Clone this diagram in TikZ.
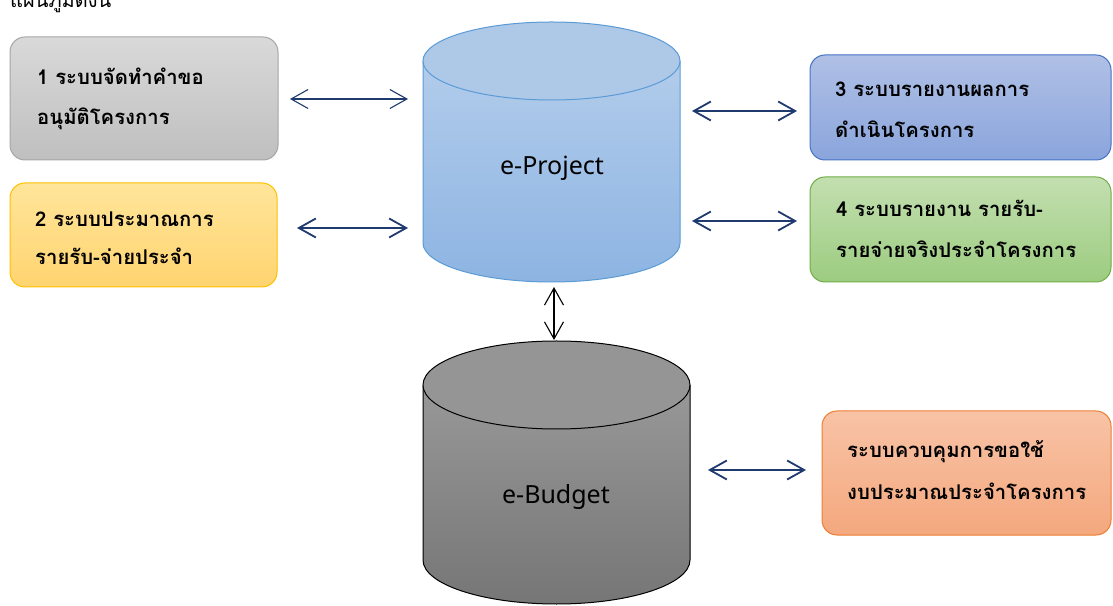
\documentclass[tikz,border=0pt]{standalone}
\usepackage{fontspec}
\setmainfont{Noto Sans}
\newfontfamily\thaifont[Script=Thai]{Loma}
\usetikzlibrary{arrows.meta}
\definecolor{navy}{HTML}{1F3A6E}
\definecolor{b1d}{HTML}{A6A6A6}\definecolor{b1t}{HTML}{D9D9D9}\definecolor{b1b}{HTML}{BFBFBF}
\definecolor{b2d}{HTML}{FFC000}\definecolor{b2t}{HTML}{FFE59A}\definecolor{b2b}{HTML}{FFD470}
\definecolor{b3d}{HTML}{4472C4}\definecolor{b3t}{HTML}{B0C0E6}\definecolor{b3b}{HTML}{8AA5DC}
\definecolor{b4d}{HTML}{70AD47}\definecolor{b4t}{HTML}{C3DFB0}\definecolor{b4b}{HTML}{9CCC80}
\definecolor{b5d}{HTML}{ED7D31}\definecolor{b5t}{HTML}{F8C3A6}\definecolor{b5b}{HTML}{F4A87E}
\definecolor{epd}{HTML}{5B9BD5}\definecolor{ept}{HTML}{B2CCEB}\definecolor{epb}{HTML}{8DB4E2}\definecolor{epc}{HTML}{AEC8E8}
\definecolor{ebt}{HTML}{989898}\definecolor{ebb}{HTML}{767676}\definecolor{ebc}{HTML}{959595}
\begin{document}
\begin{tikzpicture}[x=1pt,y=1pt,
  sbox/.style={draw, rounded corners=15pt, line width=1pt, inner sep=0pt},
  tlabel/.style={anchor=base west, inner sep=0pt, font=\thaifont\bfseries\fontsize{20.3}{24}\selectfont},
  tips/.style={{Straight Barb[length=17pt,width=19pt]}-{Straight Barb[length=17pt,width=19pt]}},
  dbl/.style={navy, line width=1.8pt, tips},
  dblthin/.style={navy, line width=1.1pt, tips},
  cyltext/.style={font=\fontsize{25}{30}\selectfont, inner sep=0pt}
]
\useasboundingbox (0,0) rectangle (1113,605);
\fill[white] (0,0) rectangle (1113,605);
% header
\node[anchor=base west, inner sep=0pt, font=\thaifont\fontsize{20}{24}\selectfont] (hdr) at (10,597) {แผนภูมิดังนี้};

% boxes
\node[sbox, draw=b1d, top color=b1t, bottom color=b1b, minimum width=268pt, minimum height=123pt] (b1) at (144,506.5) {};
\node[sbox, draw=b2d, top color=b2t, bottom color=b2b, minimum width=267pt, minimum height=104pt] (b2) at (143.5,370) {};
\node[sbox, draw=b3d, top color=b3t, bottom color=b3b, minimum width=301pt, minimum height=105pt] (b3) at (960.5,497.5) {};
\node[sbox, draw=b4d, top color=b4t, bottom color=b4b, minimum width=301pt, minimum height=105pt] (b4) at (960.5,375.5) {};
\node[sbox, draw=b5d, top color=b5t, bottom color=b5b, minimum width=289pt, minimum height=124pt] (b5) at (966.5,132) {};

% box texts
\node[tlabel] (t1a) at (37,520) {1 ระบบจัดทำคำขอ};
\node[tlabel] (t1b) at (37,480) {อนุมัติโครงการ};
\node[tlabel] (t2a) at (35,378) {2 ระบบประมาณการ};
\node[tlabel] (t2b) at (35,340) {รายรับ-จ่ายประจำ};
\node[tlabel] (t3a) at (835,508) {3 ระบบรายงานผลการ};
\node[tlabel] (t3b) at (835,467) {ดำเนินโครงการ};
\node[tlabel] (t4a) at (836,388) {4 ระบบรายงาน รายรับ-};
\node[tlabel] (t4b) at (836,347) {รายจ่ายจริงประจำโครงการ};
\node[tlabel] (t5a) at (847,147) {ระบบควบคุมการขอใช้};
\node[tlabel] (t5b) at (847,105) {งบประมาณประจำโครงการ};

% e-Project cylinder
\shade[top color=ept, bottom color=epb]
  (423,544) -- (423,362) arc[start angle=180, end angle=360, x radius=128.5pt, y radius=39pt] -- (680,544) -- cycle;
\draw[line width=1pt, epd]
  (423,544) -- (423,362) arc[start angle=180, end angle=360, x radius=128.5pt, y radius=39pt] -- (680,544);
\draw[line width=1pt, draw=epd, fill=epc]
  (551.5,544) ellipse[x radius=128.5pt, y radius=39pt];
\node[cyltext] (ep) at (552,437) {e-Project};

% e-Budget cylinder
\shade[top color=ebt, bottom color=ebb]
  (423,220) -- (423,45) arc[start angle=180, end angle=360, x radius=133.5pt, y radius=44pt] -- (690,220) -- cycle;
\draw[line width=1pt, black]
  (423,220) -- (423,45) arc[start angle=180, end angle=360, x radius=133.5pt, y radius=44pt] -- (690,220);
\draw[line width=1pt, draw=black, fill=ebc]
  (556.5,220) ellipse[x radius=133.5pt, y radius=44pt];
\node[cyltext] (eb) at (556,108) {e-Budget};

% connector end points
\coordinate (a1l) at (290,506); \coordinate (a1r) at (408,506);
\coordinate (a2l) at (297,377); \coordinate (a2r) at (408,377);
\coordinate (a3l) at (692,494); \coordinate (a3r) at (797,494);
\coordinate (a4l) at (692,384); \coordinate (a4r) at (797,384);
\coordinate (a5l) at (708,135); \coordinate (a5r) at (806,135);
\coordinate (vt) at (554,318); \coordinate (vb) at (554,265);

\draw[dblthin] (a1l) -- (a1r);
\draw[dbl] (a2l) -- (a2r);
\draw[dbl] (a3l) -- (a3r);
\draw[dbl] (a4l) -- (a4r);
\draw[dbl] (a5l) -- (a5r);
\draw[black, line width=1.1pt, tips] (vt) -- (vb);
\end{tikzpicture}
\end{document}
